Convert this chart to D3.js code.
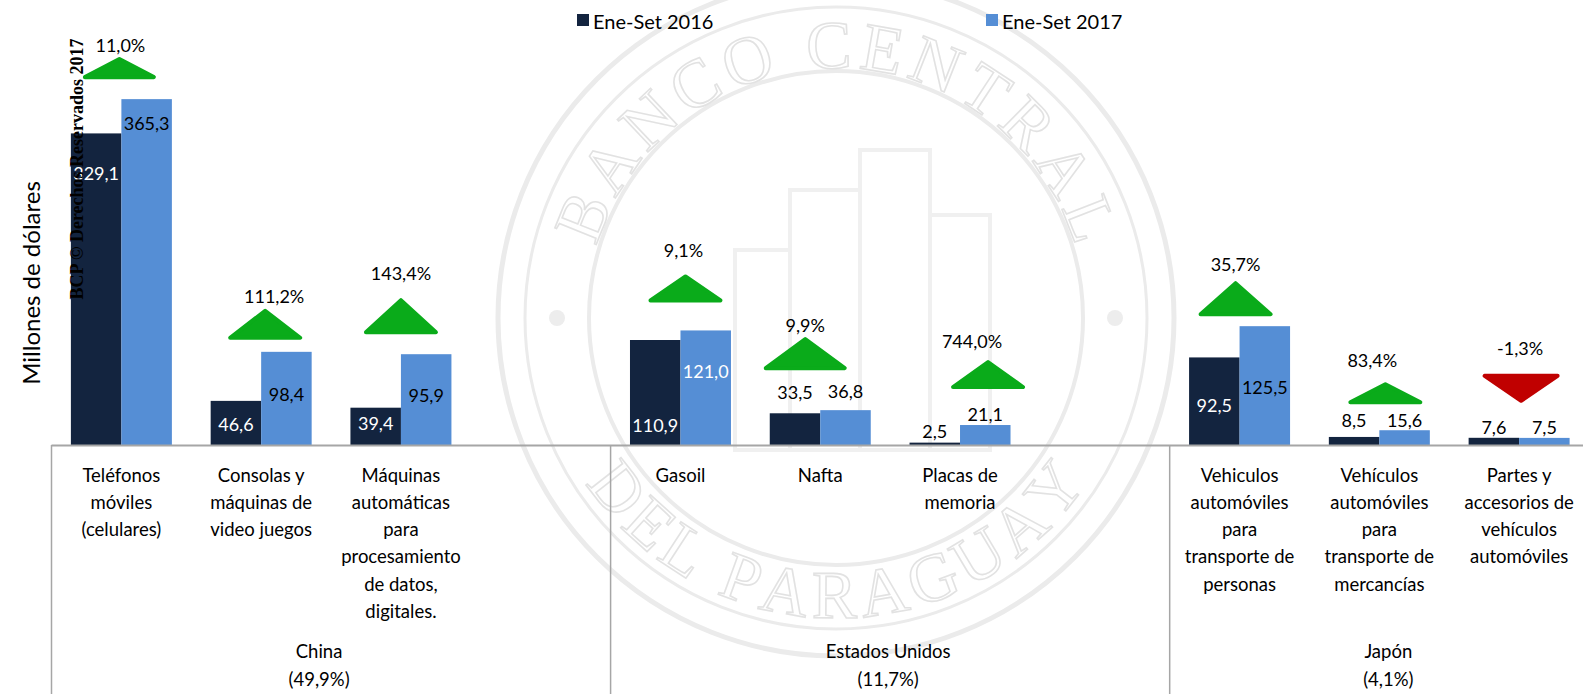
<!DOCTYPE html>
<html>
<head>
<meta charset="utf-8">
<script src="https://cdn.jsdelivr.net/npm/d3@7"></script>
<style>
  html, body { margin: 0; padding: 0; background: #fff; }
  svg { display: block; font-family: Lato, 'Open Sans', sans-serif; }
</style>
</head>
<body>
<div id="chart"></div>
<script>
// Data
var groups = ['China', 'Estados Unidos', 'Japón'];
var groupShares = ['(49,9%)', '(11,7%)', '(4,1%)'];
var categoryLines = [
    ['Teléfonos', 'móviles', '(celulares)'],
    ['Consolas y', 'máquinas de', 'video juegos'],
    ['Máquinas', 'automáticas', 'para', 'procesamiento', 'de datos,', 'digitales.'],
    ['Gasoil'],
    ['Nafta'],
    ['Placas de', 'memoria'],
    ['Vehiculos', 'automóviles', 'para', 'transporte de', 'personas'],
    ['Vehículos', 'automóviles', 'para', 'transporte de', 'mercancías'],
    ['Partes y', 'accesorios de', 'vehículos', 'automóviles']
];
var categoryGroup = [0, 0, 0, 1, 1, 1, 2, 2, 2];
var seriesNames = ['Ene-Set 2016', 'Ene-Set 2017'];
var values2016 = [329.1, 46.6, 39.4, 110.9, 33.5, 2.5, 92.5, 8.5, 7.6];
var values2017 = [365.3, 98.4, 95.9, 121.0, 36.8, 21.1, 125.5, 15.6, 7.5];
var changePct = [11.0, 111.2, 143.4, 9.1, 9.9, 744.0, 35.7, 83.4, -1.3];

// Layout tweaks (the source chart places these by hand)
var labelDy2016 = [40, 23, 15, 85, -21, -12, 48, -17, -11];
var labelDy2017 = [24, 42, 41, 41, -19, -11, 61, -10, -11];
var labelInk2016 = ['#fff', '#fff', '#fff', '#fff', '#000', '#000', '#fff', '#000', '#000'];
var labelInk2017 = ['#000', '#000', '#000', '#fff', '#000', '#000', '#000', '#000', '#000'];
var markerGap = [20, 12, 20, 28, 40, 36, 10, 26, 35];
var markerH = [22, 31, 36, 28, 33, 29, 35, 22, 29];
var markerW = [73, 74, 74, 74, 83, 74, 74, 74, 77];
var markerDx = [-2, 4, 0, 5, -15, 28, -4, 6, 2];
var pctGap = [12, 13, 25, 24, 12, 19, 17, 22, 26];
var pctDx = [-1, 13, 0, 3, -15, 12, -4, -7, 1];

var WIDTH = 1583, HEIGHT = 694;
var BASE = 445;
var DARK = '#13243f', LIGHT = '#558ed5';
var GREEN = '#0aab1a', RED = '#c00000';
var RULE = '#a6a6a6';
var LABEL_SIZE = 18.5;

var numFmt = d3.formatLocale({decimal: ',', thousands: '.', grouping: [3], currency: ['', ''], minus: '-'}).format('.1f');

var svg = d3.select('#chart').append('svg')
    .attr('width', WIDTH)
    .attr('height', HEIGHT);
svg.append('rect').attr('width', WIDTH).attr('height', HEIGHT).attr('fill', '#fff');

// Slots: each group gets its categories, plus an empty slot between groups
var slotKeys = [];
groups.forEach(function (g, gi) {
    categoryGroup.forEach(function (cg, ci) {
        if (cg === gi) slotKeys.push('c' + ci);
    });
    if (gi < groups.length - 1) slotKeys.push('gap' + gi);
});

var x = d3.scaleBand().domain(slotKeys).range([51.5, 1589]).padding(0);
var xs = d3.scaleBand().domain(seriesNames).range([0, x.bandwidth()]).paddingInner(0).paddingOuter(0.384);
var y = d3.scaleLinear().domain([0, 470]).range([BASE, 0]);

function cx(ci) { return x('c' + ci) + x.bandwidth() / 2; }

// Faint seal watermark in the background
var seal = svg.append('g').attr('class', 'seal');
var SX = 836, SY = 318;
[[338, 5], [311, 3], [247, 4]].forEach(function (r) {
    seal.append('circle').attr('cx', SX).attr('cy', SY).attr('r', r[0])
        .attr('fill', 'none').attr('stroke', '#ebebeb').attr('stroke-width', r[1]);
});
[-279, 279].forEach(function (d) {
    seal.append('circle').attr('cx', SX + d).attr('cy', SY).attr('r', 8).attr('fill', '#ededed');
});

// letters laid one by one round the ring
var SEAL_FONT = 68;
function sealWord(word, radius, top) {
    var probe = seal.append('text').attr('font-family', "'Liberation Serif', serif").attr('font-size', SEAL_FONT);
    var widths = word.split('').map(function (ch) {
        probe.text(ch === ' ' ? '\u00a0' : ch);
        return probe.node().getComputedTextLength() + 6;
    });
    probe.remove();
    var total = d3.sum(widths);
    var s = -total / 2;
    word.split('').forEach(function (ch, i) {
        var mid = s + widths[i] / 2;
        s += widths[i];
        if (ch === ' ') return;
        var a = top ? -90 + (mid / radius) * 180 / Math.PI : 90 - (mid / radius) * 180 / Math.PI;
        var rad = a * Math.PI / 180;
        var px = SX + radius * Math.cos(rad), py = SY + radius * Math.sin(rad);
        seal.append('text')
            .attr('transform', 'translate(' + px + ',' + py + ') rotate(' + (top ? a + 90 : a - 90) + ')')
            .attr('text-anchor', 'middle')
            .attr('font-family', "'Liberation Serif', serif")
            .attr('font-size', SEAL_FONT)
            .attr('fill', 'none')
            .attr('stroke', '#e2e2e2')
            .attr('stroke-width', 1.6)
            .text(ch);
    });
}
sealWord('BANCO CENTRAL', 250, true);
sealWord('DEL PARAGUAY', 300, false);

[[735, 250, 55, 200], [790, 190, 70, 260], [860, 150, 70, 300], [930, 215, 60, 235]].forEach(function (b) {
    seal.append('rect').attr('x', b[0]).attr('y', b[1]).attr('width', b[2]).attr('height', b[3])
        .attr('fill', 'none').attr('stroke', '#f0f0f0').attr('stroke-width', 4);
});

// Legend
var legend = svg.append('g').attr('class', 'legend');
[[577, DARK], [986, LIGHT]].forEach(function (l, i) {
    legend.append('rect').attr('x', l[0]).attr('y', 14).attr('width', 12).attr('height', 12).attr('fill', l[1]);
    legend.append('text').attr('x', l[0] + 16).attr('y', 21)
        .attr('dominant-baseline', 'central')
        .attr('font-size', 20).attr('fill', '#000')
        .text(seriesNames[i]);
});

// Bars
var barData = [];
values2016.forEach(function (v, ci) {
    barData.push({ci: ci, s: seriesNames[0], v: v, dy: labelDy2016[ci], ink: labelInk2016[ci], fill: DARK});
    barData.push({ci: ci, s: seriesNames[1], v: values2017[ci], dy: labelDy2017[ci], ink: labelInk2017[ci], fill: LIGHT});
});

var bars = svg.append('g').attr('class', 'bars');
bars.selectAll('rect').data(barData).enter().append('rect')
    .attr('x', function (d) { return x('c' + d.ci) + xs(d.s); })
    .attr('y', function (d) { return y(d.v); })
    .attr('width', xs.bandwidth())
    .attr('height', function (d) { return BASE - y(d.v); })
    .attr('fill', function (d) { return d.fill; });

// Axis baseline and group separators
var axisG = svg.append('g').attr('class', 'axis');
axisG.append('line').attr('x1', x.range()[0]).attr('x2', WIDTH).attr('y1', BASE + 0.5).attr('y2', BASE + 0.5)
    .attr('stroke', RULE).attr('stroke-width', 2);
var bounds = [x.range()[0]];
groups.forEach(function (g, gi) {
    if (gi < groups.length - 1) bounds.push(x('gap' + gi) + x.bandwidth());
});
bounds.forEach(function (bx) {
    axisG.append('line').attr('x1', bx).attr('x2', bx).attr('y1', BASE).attr('y2', HEIGHT)
        .attr('stroke', RULE).attr('stroke-width', 1.5);
});

// Category labels
var catG = svg.append('g').attr('class', 'categories');
categoryLines.forEach(function (lines, ci) {
    var t = catG.append('text')
        .attr('text-anchor', 'middle')
        .attr('font-size', LABEL_SIZE)
        .attr('fill', '#000');
    lines.forEach(function (ln, li) {
        t.append('tspan').attr('x', cx(ci)).attr('y', 474.5 + li * 27.3)
            .attr('dominant-baseline', 'central').text(ln);
    });
});

// Group labels
var groupEdges = bounds.concat([x.range()[1]]);
var groupDx = [-12, -2, 9];
groups.forEach(function (g, gi) {
    var gx = (groupEdges[gi] + groupEdges[gi + 1]) / 2 + groupDx[gi];
    var t = svg.append('text').attr('text-anchor', 'middle').attr('font-size', LABEL_SIZE).attr('fill', '#000');
    t.append('tspan').attr('x', gx).attr('y', 651).attr('dominant-baseline', 'central').text(g);
    t.append('tspan').attr('x', gx).attr('y', 679).attr('dominant-baseline', 'central').text(groupShares[gi]);
});

// Value labels
svg.append('g').attr('class', 'values').selectAll('text').data(barData).enter().append('text')
    .attr('x', function (d) { return x('c' + d.ci) + xs(d.s) + xs.bandwidth() / 2; })
    .attr('y', function (d) { return y(d.v) + d.dy; })
    .attr('text-anchor', 'middle')
    .attr('dominant-baseline', 'central')
    .attr('font-size', 18)
    .attr('fill', function (d) { return d.ink; })
    .text(function (d) { return numFmt(d.v); });

// Change markers (up / down triangles) with percentage
var markG = svg.append('g').attr('class', 'markers');
changePct.forEach(function (p, ci) {
    var top = y(Math.max(values2016[ci], values2017[ci]));
    var mx = cx(ci) + markerDx[ci];
    var w = markerW[ci] - 4, h = markerH[ci] - 4;
    var pts, labelY;
    if (p >= 0) {
        var base = top - markerGap[ci] - 2;
        pts = [[mx - w / 2, base], [mx, base - h], [mx + w / 2, base]];
        labelY = base - h - 2 - pctGap[ci];
    } else {
        var apex = top - markerGap[ci] - 2;
        pts = [[mx - w / 2, apex - h], [mx + w / 2, apex - h], [mx, apex]];
        labelY = apex - h - 2 - pctGap[ci];
    }
    var col = p >= 0 ? GREEN : RED;
    markG.append('path')
        .attr('d', d3.line()(pts) + 'Z')
        .attr('fill', col).attr('stroke', col).attr('stroke-width', 4).attr('stroke-linejoin', 'round');
    markG.append('text')
        .attr('x', cx(ci) + pctDx[ci]).attr('y', labelY)
        .attr('text-anchor', 'middle').attr('dominant-baseline', 'central')
        .attr('font-size', 18).attr('fill', '#000')
        .text(numFmt(p) + '%');
});

// Y axis title
svg.append('text')
    .attr('transform', 'translate(30,283) rotate(-90)')
    .attr('text-anchor', 'middle').attr('dominant-baseline', 'central')
    .attr('font-size', 24).attr('fill', '#000')
    .text('Millones de dólares');

// Copyright stamp
svg.append('text')
    .attr('transform', 'translate(77,169) rotate(-90)')
    .attr('text-anchor', 'middle').attr('dominant-baseline', 'central')
    .attr('font-family', "'Liberation Serif', 'Times New Roman', serif")
    .attr('font-weight', 'bold')
    .attr('font-size', 18).attr('fill', '#000')
    .text('BCP © Derechos Reservados 2017');
</script>
</body>
</html>
